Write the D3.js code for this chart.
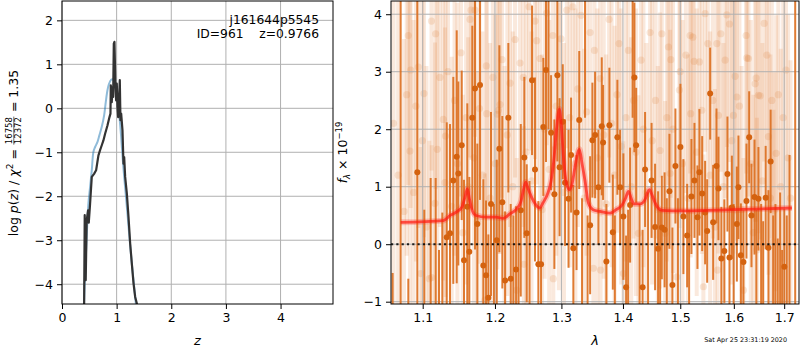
<!DOCTYPE html>
<html><head><meta charset="utf-8">
<script src="https://cdn.jsdelivr.net/npm/d3@7/dist/d3.min.js"></script>
<style>
body{margin:0;background:#fff}
text{font-family:"DejaVu Sans",sans-serif}
</style></head>
<body><svg id="c" width="800" height="350"></svg>
<script>
// ---------- Left panel data ----------
const zTicks = [0,1,2,3,4];
const logpTicks = [-4,-3,-2,-1,0,1,2];
// p(z) (light blue curve)
const zPdf = [0.400,0.416,0.452,0.483,0.514,0.545,0.575,0.606,0.648,0.685,0.728,0.771,0.801,0.832,0.862,0.899,0.930,0.960,0.991,1.021,1.052,1.083,1.113,1.144,1.187,1.229,1.278,1.321,1.358];
const logpPdf = [-4.60,-3.98,-2.92,-2.17,-1.79,-1.41,-0.99,-0.88,-0.77,-0.61,-0.42,-0.16,0.14,0.41,0.56,0.65,0.66,0.58,0.41,0.14,-0.20,-0.65,-1.18,-1.64,-2.24,-2.85,-3.53,-4.06,-4.52];
// chi2 based curve (dark)
const zChi = [0.404,0.416,0.434,0.452,0.477,0.490,0.514,0.545,0.587,0.624,0.648,0.667,0.697,0.728,0.758,0.789,0.832,0.869,0.887,0.893,0.911,0.923,0.936,0.948,0.960,0.972,0.978,0.991,1.003,1.015,1.028,1.046,1.058,1.070,1.083,1.107,1.125,1.138,1.156,1.187,1.217,1.248,1.278,1.309,1.339,1.370,1.380];
const logpChi = [-4.60,-2.43,-3.91,-2.55,-2.32,-2.60,-2.17,-1.56,-1.49,-1.41,-1.22,-1.07,-0.95,-0.84,-0.73,-0.58,-0.39,-0.20,-0.12,0.52,0.14,0.48,0.26,1.47,1.51,0.86,0.48,0.18,0.56,0.03,-0.20,0.26,0.64,-0.27,-0.12,-0.50,-1.26,-1.11,-1.56,-1.94,-2.47,-3.08,-3.53,-3.98,-4.29,-4.44,-4.60];

// ---------- Right panel data ----------
const lamTicks = [1.1,1.2,1.3,1.4,1.5,1.6,1.7];
const fluxTicks = [-1,0,1,2,3,4];
// individual (faint) spectra
const lamAll = [
1.0620,1.0680,1.0755,1.0790,1.0811,1.0833,1.0842,1.0880,1.0910,1.0942,
1.0973,1.0995,1.1017,1.1050,1.1088,1.1117,1.1120,1.1164,1.1173,1.1195,
1.1230,1.1276,1.1299,1.1306,1.1340,1.1391,1.1430,1.1470,1.1519,1.1545,
1.1590,1.1620,1.1645,1.1659,1.1700,1.1715,1.1750,1.1779,1.1820,1.1857,
1.1876,1.1882,1.1930,1.1970,1.2005,1.2034,1.2049,1.2074,1.2103,1.2140,
1.2180,1.2220,1.2260,1.2294,1.2319,1.2368,1.2417,1.2425,1.2460,1.2503,
1.2540,1.2593,1.2619,1.2669,1.2700,1.2740,1.2772,1.2810,1.2865,1.2874,
1.2920,1.2960,1.2994,1.3040,1.3084,1.3130,1.3179,1.3220,1.3260,1.3311,
1.3360,1.3400,1.3457,1.3510,1.3527,1.3575,1.3620,1.3628,1.3680,1.3720,
1.3768,1.3810,1.3860,1.3900,1.3935,1.3970,1.4007,1.4050,1.4092,1.4140,
1.4180,1.4220,1.4263,1.4309,1.4350,1.4400,1.4465,1.4500,1.4560,1.4600,
1.4641,1.4671,1.4729,1.4760,1.4788,1.4818,1.4831,1.4870,1.4938,1.4985,
1.4998,1.5040,1.5101,1.5140,1.5179,1.5190,1.5229,1.5253,1.5300,1.5350,
1.5395,1.5424,1.5456,1.5506,1.5550,1.5600,1.5640,1.5676,1.5690,1.5706,
1.5751,1.5800,1.5833,1.5866,1.5916,1.5960,1.5992,1.6025,1.6058,1.6108,
1.6150,1.6186,1.6239,1.6252,1.6284,1.6330,1.6380,1.6416,1.6436,1.6450,
1.6481,1.6515,1.6560,1.6595,1.6649,1.6681,1.6720,1.6749,1.6782,1.6800,
1.6836,1.6880,1.6930,1.6980,1.7037,1.7080,1.7130];
const fluxAll = [
2.1,1.2,0.57,2.6,3.63,1.62,3.03,0.9,2.4,3.08,
-0.51,1.8,2.62,0.3,-0.6,3.88,-0.58,0.71,3.66,1.65,
2.9,2.17,1.07,1.88,3.0,0.66,2.5,1.4,3.33,0.2,
2.2,1.0,3.91,4.07,1.5,4.07,0.4,2.36,1.2,-0.97,
3.10,2.27,0.8,2.9,1.4,2.26,2.33,2.43,3.21,0.5,
1.9,2.8,1.0,3.56,-0.8,3.15,2.90,-0.35,1.6,4.13,
1.1,3.88,3.54,3.23,0.6,2.0,4.02,1.3,3.63,-0.60,
2.4,1.7,3.57,0.9,4.07,2.2,4.13,1.4,2.7,3.98,
0.8,2.3,3.68,-0.42,3.37,1.5,2.88,-0.45,1.9,0.7,
3.91,2.1,1.2,2.6,3.49,1.7,-0.51,2.2,3.37,1.0,
2.5,1.6,0.19,3.20,2.0,0.9,3.68,1.8,2.5,0.6,
1.63,3.66,0.19,2.2,3.43,1.23,3.21,2.0,-0.57,2.68,
3.00,1.4,3.29,0.8,3.63,2.27,3.60,3.18,1.6,3.17,
2.33,-0.74,4.01,3.49,1.2,2.5,0.3,3.49,-0.45,2.24,
3.66,1.0,3.20,3.99,3.83,1.8,2.24,2.92,2.56,2.40,
0.6,-0.80,3.63,3.24,3.23,1.4,0.2,2.79,2.89,-0.10,
2.59,2.58,1.1,3.84,3.29,1.87,0.8,2.50,0.04,0.59,
1.58,2.6,1.0,2.2,3.03,1.5,0.8];
const errAll = [
3.5,3.2,3.0,2.8,2.6,3.2,2.4,3.0,2.7,2.8,
2.2,2.9,2.5,2.8,2.4,2.6,2.3,2.8,2.7,2.9,
2.6,2.8,2.7,2.8,2.5,2.6,2.7,2.8,2.5,2.4,
2.9,2.6,2.4,2.6,2.8,2.2,2.6,2.7,2.5,2.2,
2.5,2.6,2.7,2.4,2.6,2.7,2.5,2.6,2.4,2.6,
2.8,2.5,2.7,2.4,2.3,2.5,2.6,2.4,2.7,2.5,
2.6,2.4,2.5,2.6,2.7,2.6,2.3,2.6,2.4,2.3,
2.6,2.5,2.5,2.6,2.4,2.6,2.5,2.7,2.4,2.5,
2.6,2.5,2.4,2.3,2.5,2.6,2.4,2.3,2.5,2.6,
2.4,2.5,2.6,2.4,2.5,2.4,2.3,2.5,2.4,2.6,
2.4,2.5,2.4,2.5,2.4,2.6,2.4,2.5,2.4,2.5,
2.4,2.5,2.3,2.5,2.4,2.5,2.4,2.5,2.3,2.4,
2.5,2.5,2.4,2.5,2.4,2.5,2.3,2.4,2.5,2.4,
2.5,2.3,2.4,2.5,2.5,2.4,2.4,2.5,2.3,2.4,
2.4,2.5,2.4,2.3,2.4,2.5,2.4,2.4,2.5,2.4,
2.5,2.3,2.4,2.5,2.4,2.5,2.4,2.4,2.5,2.3,
2.4,2.5,2.4,2.4,2.5,2.4,2.5,2.4,2.3,2.4,
2.4,2.5,2.4,2.5,2.4,2.5,2.4];
// combined (solid) spectrum
const lamBin = [
1.0609,1.0712,1.0811,1.0929,1.1021,1.1106,1.1173,1.1218,1.1263,1.1323,
1.1368,1.1413,1.1460,1.1482,1.1529,1.1561,1.1607,1.1635,1.1677,1.1715,
1.1748,1.1786,1.1833,1.1872,1.1905,1.1943,1.1984,1.2026,1.2064,1.2107,
1.2147,1.2195,1.2230,1.2269,1.2309,1.2346,1.2379,1.2432,1.2468,1.2510,
1.2548,1.2593,1.2644,1.2685,1.2720,1.2761,1.2800,1.2839,1.2890,1.2937,
1.2971,1.3021,1.3057,1.3112,1.3152,1.3188,1.3239,1.3282,1.3327,1.3375,
1.3416,1.3457,1.3494,1.3538,1.3592,1.3647,1.3669,1.3723,1.3773,1.3830,
1.3864,1.3906,1.3952,1.4007,1.4053,1.4087,1.4121,1.4164,1.4194,1.4224,
1.4283,1.4335,1.4378,1.4430,1.4491,1.4552,1.4605,1.4641,1.4671,1.4720,
1.4759,1.4806,1.4859,1.4913,1.4958,1.5003,1.5057,1.5125,1.5161,1.5203,
1.5259,1.5314,1.5350,1.5401,1.5456,1.5494,1.5550,1.5606,1.5669,1.5706,
1.5761,1.5818,1.5877,1.5916,1.5962,1.5996,1.6058,1.6089,1.6136,1.6186,
1.6245,1.6298,1.6343,1.6403,1.6440,1.6481,1.6535,1.6575,1.6625,1.6681,
1.6725,1.6776,1.6822,1.6869,1.6917,1.6958,1.7003,1.7053,1.7109,1.7227];
const fluxBin = [
-1.5,6.0,-1.5,1.25,-1.6,-1.5,-1.4,-1.5,-1.4,0.12,
0.19,1.11,1.52,1.23,1.72,-0.28,0.65,-0.13,2.20,2.71,
0.35,2.77,-0.37,-0.54,-0.93,0.70,-1.6,0.07,1.66,0.73,
-0.63,2.20,-0.60,-1.5,-0.44,-1.7,0.59,1.51,0.19,-1.5,
2.85,1.30,-0.35,-0.35,2.04,3.03,5.0,1.94,0.87,2.94,
1.34,2.13,1.07,0.79,1.55,-0.07,0.55,2.16,-1.6,4.8,
-1.5,0.33,1.81,1.90,0.99,2.05,1.77,-0.30,2.07,0.21,
-1.4,1.86,0.99,0.48,-0.75,-1.6,0.68,4.6,2.90,1.72,
-1.5,-0.75,1.30,-1.6,1.11,0.30,-0.08,-1.4,0.29,0.25,
-1.5,0.92,-0.71,1.36,-1.6,1.69,0.48,0.15,-1.5,0.83,
1.11,0.47,1.25,0.88,0.55,0.23,2.62,0.38,1.36,0.97,
-0.25,-0.12,1.22,-0.23,0.64,-1.6,0.35,0.99,-0.19,-0.31,
0.75,1.86,0.50,0.82,-1.4,0.79,-1.5,-1.6,0.81,-0.06,
1.44,-1.5,-1.6,-1.5,-1.4,-1.6,-0.39,-1.5,-1.5,5.5];
const errBin = [
1.0,8.0,0.9,3.5,2.2,2.65,2.55,1.4,1.95,2.0,
1.9,1.8,2.2,1.6,1.3,1.4,1.8,1.3,1.6,2.8,
1.4,2.0,1.5,1.3,1.1,1.6,2.3,1.4,1.8,1.5,
1.2,1.3,1.3,2.0,1.1,2.3,1.5,1.4,1.2,2.6,
1.3,1.6,1.1,1.0,1.2,1.6,3.0,1.0,1.3,1.5,
1.2,1.0,1.1,1.2,1.0,1.1,1.0,1.2,2.4,2.6,
2.0,1.2,1.0,1.1,1.0,1.2,1.0,1.0,1.0,1.0,
1.9,1.0,1.0,1.1,0.9,2.2,1.0,2.4,1.3,1.0,
2.2,1.0,1.0,2.5,1.0,1.1,1.0,2.0,0.9,1.0,
2.3,1.0,1.0,1.0,2.4,1.1,1.0,0.9,2.1,1.0,
1.0,0.9,1.1,1.0,0.9,0.9,0.8,1.0,1.0,0.9,
0.9,0.9,1.0,0.9,0.9,2.3,1.0,0.9,0.9,0.9,
1.0,0.8,0.9,1.0,2.0,0.9,2.2,2.0,0.9,1.0,
0.9,2.0,2.3,1.6,2.3,1.5,1.0,2.0,3.05,7.0];
// best-fit model
const lamModel = [1.0712,1.1276,1.1368,1.1478,1.1533,1.1575,1.1607,1.1638,1.1673,1.1729,1.1872,1.2016,1.2121,1.2220,1.2323,1.2383,1.2420,1.2453,1.2488,1.2548,1.2624,1.2662,1.2715,1.2793,1.2839,1.2885,1.2924,1.2968,1.3002,1.3033,1.3081,1.3125,1.3168,1.3215,1.3284,1.3327,1.3375,1.3429,1.3505,1.3619,1.3785,1.3885,1.3985,1.4044,1.4092,1.4138,1.4189,1.4292,1.4378,1.4421,1.4453,1.4501,1.4553,1.4605,1.4676,1.5052,1.5987,1.7160];
const fluxModel = [0.38,0.41,0.50,0.58,0.65,0.82,0.96,0.78,0.60,0.50,0.47,0.47,0.45,0.53,0.62,0.75,0.95,1.08,0.97,0.80,0.66,0.63,0.72,0.90,1.10,1.50,2.00,2.35,2.00,1.50,1.05,0.95,1.05,1.35,1.65,1.40,1.10,0.72,0.60,0.57,0.54,0.60,0.68,0.80,0.92,0.80,0.70,0.70,0.78,0.90,0.95,0.85,0.72,0.63,0.59,0.58,0.60,0.63];

// ---------- Drawing ----------
const svg = d3.select('#c');
const FS = 12.5;
const GRID = '#b0b0b0';

function styleAxis(g){
  g.select('.domain').remove();
  g.selectAll('.tick line').attr('stroke','#000').attr('stroke-width',1);
  g.selectAll('.tick text').attr('fill','#000').attr('font-size',FS)
   .attr('font-family','"DejaVu Sans",sans-serif');
}

// ===== Left panel =====
const L = {x0:62,x1:333,y0:1,y1:304};
const xL = d3.scaleLinear().domain([0,4.96]).range([L.x0,L.x1]);
const yL = d3.scaleLinear().domain([-4.45,2.44]).range([L.y1,L.y0]);
svg.append('clipPath').attr('id','clipL').append('rect')
  .attr('x',L.x0).attr('y',L.y0).attr('width',L.x1-L.x0).attr('height',L.y1-L.y0);
const gL = svg.append('g');
gL.selectAll('.gx').data(zTicks).join('line')
  .attr('x1',d=>xL(d)).attr('x2',d=>xL(d)).attr('y1',L.y0).attr('y2',L.y1)
  .attr('stroke',GRID).attr('stroke-width',1);
gL.selectAll('.gy').data(logpTicks).join('line')
  .attr('y1',d=>yL(d)).attr('y2',d=>yL(d)).attr('x1',L.x0).attr('x2',L.x1)
  .attr('stroke',GRID).attr('stroke-width',1);
const cL = gL.append('g').attr('clip-path','url(#clipL)');
const pdfPts = zPdf.map((z,i)=>[z,logpPdf[i]]);
const chiPts = zChi.map((z,i)=>[z,logpChi[i]]);
const lineL = d3.line().x(d=>xL(d[0])).y(d=>yL(d[1]));
cL.append('path').attr('d',lineL.curve(d3.curveCatmullRom)(pdfPts))
  .attr('fill','none').attr('stroke','#1f77b4').attr('stroke-opacity',0.5).attr('stroke-width',2);
cL.append('path').attr('d',d3.line().x(d=>xL(d[0])).y(d=>yL(d[1]))(chiPts))
  .attr('fill','none').attr('stroke','#333').attr('stroke-width',2.2).attr('stroke-linejoin','round');
gL.append('rect').attr('x',L.x0).attr('y',L.y0).attr('width',L.x1-L.x0).attr('height',L.y1-L.y0)
  .attr('fill','none').attr('stroke','#000').attr('stroke-width',1);
gL.append('g').attr('transform',`translate(0,${L.y1})`)
  .call(d3.axisBottom(xL).tickValues(zTicks).tickSize(5).tickPadding(4).tickFormat(d3.format('d'))).call(styleAxis);
gL.append('g').attr('transform',`translate(${L.x0},0)`)
  .call(d3.axisLeft(yL).tickValues(logpTicks).tickSize(5).tickPadding(4).tickFormat(d3.format('d'))).call(styleAxis);
svg.append('text').attr('x',(L.x0+L.x1)/2).attr('y',345).attr('text-anchor','middle')
  .attr('font-size',13).attr('font-style','italic').text('z');
svg.append('text').attr('x',319).attr('y',24).attr('text-anchor','end').attr('font-size',12.3).text('j161644p5545');
svg.append('text').attr('x',319).attr('y',38).attr('text-anchor','end').attr('font-size',12.3)
  .style('white-space','pre').text('ID=961    z=0.9766');

// left y label with fraction
{
  const g = svg.append('g').attr('transform','translate(18,153) rotate(-90)');
  const inner = g.append('g');
  const t1 = inner.append('text').attr('font-size',FS).attr('x',0).attr('y',0);
  t1.append('tspan').text('log ');
  t1.append('tspan').attr('font-style','italic').text('p');
  t1.append('tspan').text('(');
  t1.append('tspan').attr('font-style','italic').text('z');
  t1.append('tspan').text(') / ');
  t1.append('tspan').attr('font-style','italic').text('χ');
  t1.append('tspan').attr('font-size',9).attr('dy',-5).text('2');
  t1.append('tspan').attr('dy',5).style('white-space','pre').text(' = ');
  const w1 = t1.node().getComputedTextLength();
  const num = inner.append('text').attr('font-size',8.5).attr('x',w1+1).attr('y',-6).text('16758');
  const den = inner.append('text').attr('font-size',8.5).attr('x',w1+1).attr('y',3).text('12372');
  const fw = Math.max(num.node().getComputedTextLength(), den.node().getComputedTextLength());
  inner.append('line').attr('x1',w1+0.5).attr('x2',w1+fw+1.5).attr('y1',-4.2).attr('y2',-4.2)
    .attr('stroke','#000').attr('stroke-width',0.6);
  const t3 = inner.append('text').attr('font-size',FS).attr('x',w1+fw+2).attr('y',0)
    .style('white-space','pre').text(' = 1.35');
  const W = w1+fw+2+t3.node().getComputedTextLength();
  inner.attr('transform',`translate(${-W/2},0)`);
}

// ===== Right panel =====
const R = {x0:391,x1:799,y0:1,y1:304};
const xR = d3.scaleLog().domain([1.0588,1.7306]).range([R.x0,R.x1]);
const yR = d3.scaleLinear().domain([-1.04,4.23]).range([R.y1,R.y0]);
svg.append('clipPath').attr('id','clipR').append('rect')
  .attr('x',R.x0).attr('y',R.y0).attr('width',R.x1-R.x0).attr('height',R.y1-R.y0);
const gR = svg.append('g');
const cR = gR.append('g').attr('clip-path','url(#clipR)');
const ORANGE = '#dc6e1e';
const allPts = lamAll.map((l,i)=>({l, f:fluxAll[i], e:errAll[i]}));
const binPts = lamBin.map((l,i)=>({l, f:fluxBin[i], e:errBin[i]}));
cR.append('g').selectAll('line').data(allPts).join('line')
  .attr('x1',d=>xR(d.l)).attr('x2',d=>xR(d.l))
  .attr('y1',d=>yR(d.f-d.e)).attr('y2',d=>yR(d.f+d.e))
  .attr('stroke',ORANGE).attr('stroke-opacity',0.15).attr('stroke-width',4);
cR.append('g').selectAll('circle').data(allPts).join('circle')
  .attr('cx',d=>xR(d.l)).attr('cy',d=>yR(d.f)).attr('r',3.6)
  .attr('fill',ORANGE).attr('fill-opacity',0.16);
// grid
gR.append('g').selectAll('line').data(lamTicks).join('line')
  .attr('x1',d=>xR(d)).attr('x2',d=>xR(d)).attr('y1',R.y0).attr('y2',R.y1)
  .attr('stroke',GRID).attr('stroke-width',1);
gR.append('g').selectAll('line').data(fluxTicks).join('line')
  .attr('y1',d=>yR(d)).attr('y2',d=>yR(d)).attr('x1',R.x0).attr('x2',R.x1)
  .attr('stroke',GRID).attr('stroke-width',1);
const cR2 = gR.append('g').attr('clip-path','url(#clipR)');
cR2.append('g').selectAll('line').data(binPts).join('line')
  .attr('x1',d=>xR(d.l)).attr('x2',d=>xR(d.l))
  .attr('y1',d=>yR(d.f-d.e)).attr('y2',d=>yR(d.f+d.e))
  .attr('stroke',ORANGE).attr('stroke-opacity',0.9).attr('stroke-width',2);
cR2.append('g').selectAll('circle').data(binPts).join('circle')
  .attr('cx',d=>xR(d.l)).attr('cy',d=>yR(d.f)).attr('r',3)
  .attr('fill','#d4620f');
const modelPts = lamModel.map((l,i)=>[l,fluxModel[i]]);
const lineM = d3.line().x(d=>xR(d[0])).y(d=>yR(d[1])).curve(d3.curveMonotoneX);
cR2.append('path').attr('d',lineM(modelPts)).attr('fill','none')
  .attr('stroke','#ff2a1a').attr('stroke-opacity',0.25).attr('stroke-width',6);
cR2.append('path').attr('d',lineM(modelPts)).attr('fill','none')
  .attr('stroke','#ff1a10').attr('stroke-opacity',0.7).attr('stroke-width',2.8);
// zero line
cR2.append('line').attr('x1',R.x0).attr('x2',R.x1).attr('y1',yR(0)).attr('y2',yR(0))
  .attr('stroke','#000').attr('stroke-width',2).attr('stroke-dasharray','2.2,3.1').attr('stroke-opacity',0.85);
gR.append('rect').attr('x',R.x0).attr('y',R.y0).attr('width',R.x1-R.x0).attr('height',R.y1-R.y0)
  .attr('fill','none').attr('stroke','#000').attr('stroke-width',1);
gR.append('g').attr('transform',`translate(0,${R.y1})`)
  .call(d3.axisBottom(xR).tickValues(lamTicks).tickSize(5).tickPadding(4).tickFormat(d3.format('.1f'))).call(styleAxis);
gR.append('g').attr('transform',`translate(${R.x0},0)`)
  .call(d3.axisLeft(yR).tickValues(fluxTicks).tickSize(5).tickPadding(4).tickFormat(d3.format('d'))).call(styleAxis);
svg.append('text').attr('x',(R.x0+R.x1)/2).attr('y',345).attr('text-anchor','middle')
  .attr('font-size',13).attr('font-style','italic').text('λ');
{
  const g = svg.append('g').attr('transform','translate(347,152.5) rotate(-90)');
  const t = g.append('text').attr('font-size',FS).attr('text-anchor','middle');
  t.append('tspan').attr('font-style','italic').text('f');
  t.append('tspan').attr('font-style','italic').attr('font-size',8.5).attr('dy',3).text('λ');
  t.append('tspan').attr('dy',-3).style('white-space','pre').text(' × 10');
  t.append('tspan').attr('font-size',8.5).attr('dy',-5).text('−19');
}
svg.append('text').attr('x',787).attr('y',342).attr('text-anchor','end').attr('font-size',6.4)
  .text('Sat Apr 25 23:31:19 2020');
</script>
</body></html>
